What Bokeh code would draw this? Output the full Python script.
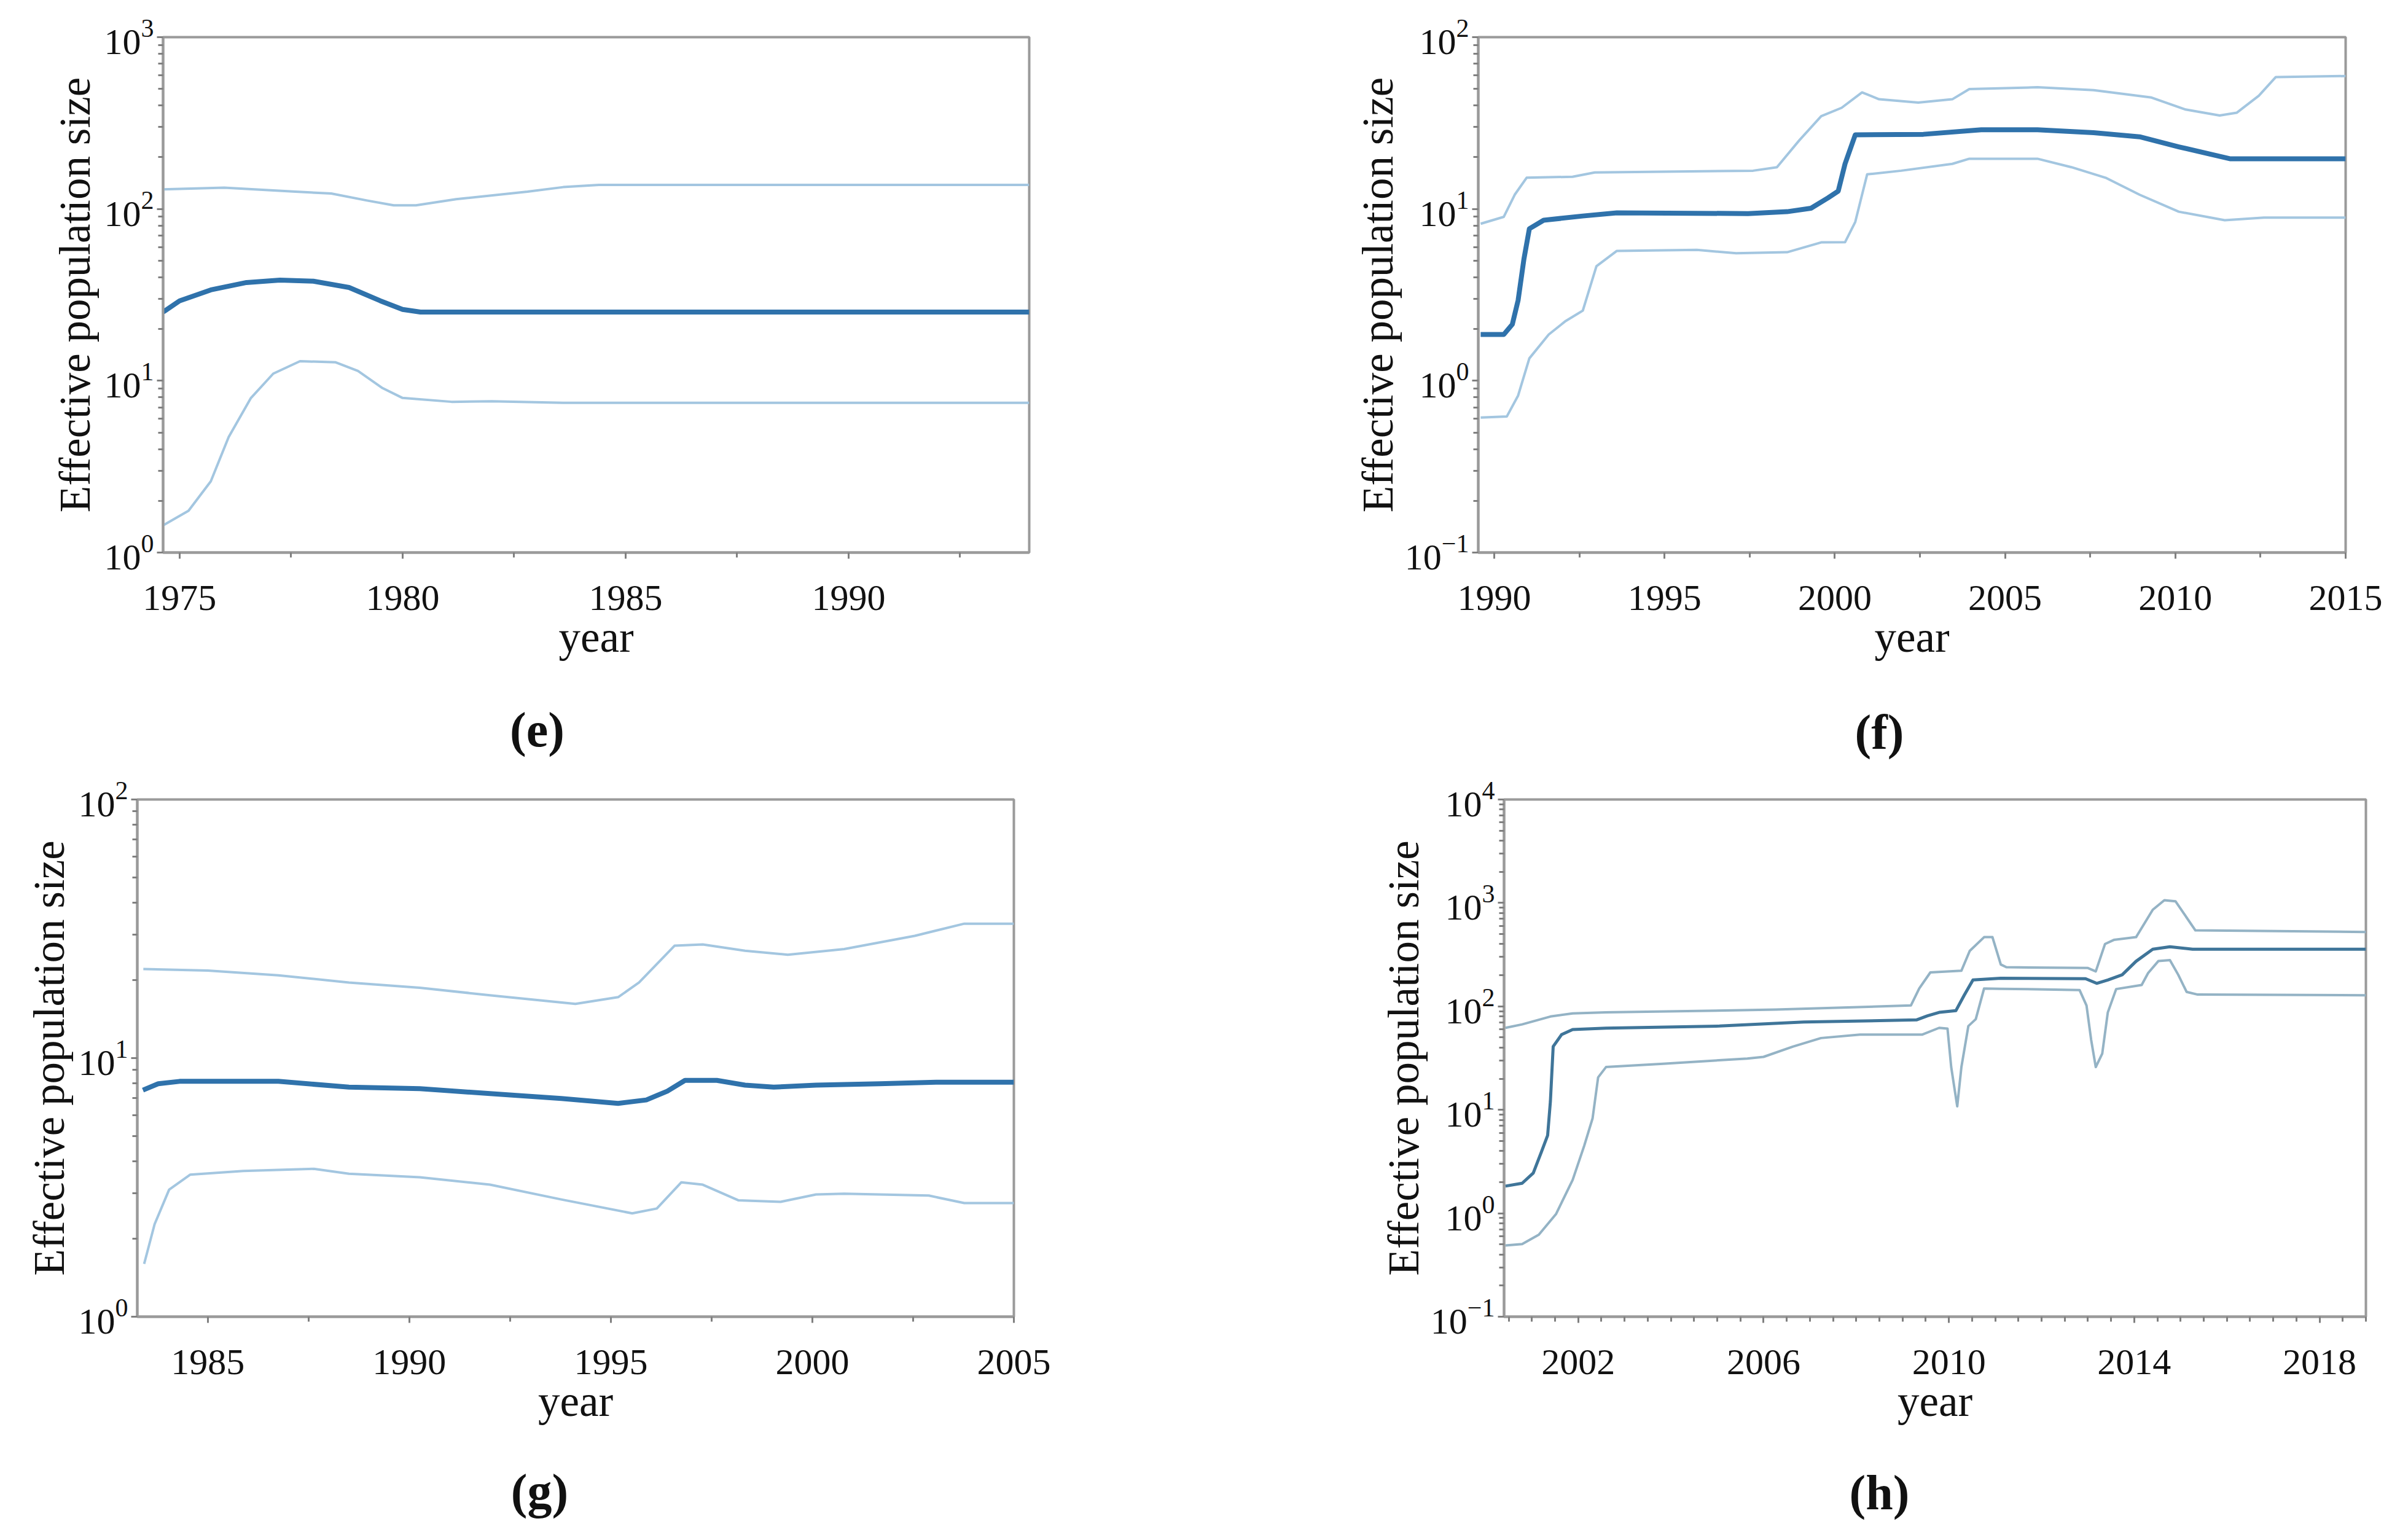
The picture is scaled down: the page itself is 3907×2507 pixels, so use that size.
from bokeh.plotting import figure
from bokeh.layouts import column, row
from bokeh.models import FixedTicker, Label, Range1d
from bokeh.embed import file_html
from bokeh.resources import INLINE

# ---------------- data ----------------
# panel (e)
e_upper_year = [1974.63, 1976.0, 1977.6, 1978.4, 1979.2, 1979.8, 1980.3, 1981.2, 1982.8, 1983.6, 1984.4, 1994.05]
e_upper = [130, 133, 126, 123, 112, 105, 105, 114, 126, 134, 138, 138]
e_mean_year = [1974.63, 1975.0, 1975.7, 1976.5, 1977.25, 1978.0, 1978.8, 1979.5, 1980.0, 1980.4, 1994.05]
e_mean = [25.1, 29.2, 33.8, 37.3, 38.5, 38.0, 34.9, 29.2, 26.0, 25.1, 25.1]
e_lower_year = [1974.63, 1975.2, 1975.7, 1976.1, 1976.6, 1977.1, 1977.7, 1978.5, 1979.0, 1979.55, 1980.0, 1981.1, 1982.0, 1983.6, 1994.05]
e_lower = [1.44, 1.75, 2.6, 4.7, 7.94, 11.0, 13.0, 12.8, 11.4, 9.06, 7.94, 7.54, 7.6, 7.44, 7.44]

# panel (f)
f_upper_year = [1989.6, 1990.28, 1990.6, 1990.95, 1992.3, 1992.95, 1997.6, 1998.3, 1998.95, 1999.6, 2000.2, 2000.8, 2001.3, 2002.45, 2003.45, 2003.95, 2005.95, 2007.6, 2009.3, 2010.3, 2011.3, 2011.8, 2012.45, 2012.95, 2015.0]
f_upper = [8.2, 9.0, 12.1, 15.2, 15.4, 16.3, 16.7, 17.5, 25.0, 34.7, 38.8, 47.7, 43.5, 41.6, 43.5, 49.9, 51.1, 49.2, 44.5, 37.9, 35.0, 36.3, 45.6, 58.6, 59.4]
f_mean_year = [1989.6, 1990.28, 1990.53, 1990.7, 1990.87, 1991.03, 1991.45, 1992.6, 1993.6, 1997.45, 1998.6, 1999.3, 1999.8, 2000.1, 2000.3, 2000.6, 2002.6, 2004.3, 2005.95, 2007.6, 2008.95, 2010.1, 2011.6, 2012.6, 2015.0]
f_mean = [1.86, 1.86, 2.13, 2.94, 5.1, 7.67, 8.6, 9.1, 9.5, 9.4, 9.64, 10.1, 11.6, 12.7, 18.3, 27.0, 27.2, 28.9, 28.9, 27.8, 26.3, 23.0, 19.6, 19.6, 19.6]
f_lower_year = [1989.6, 1990.37, 1990.7, 1991.03, 1991.6, 1992.1, 1992.6, 1993.0, 1993.6, 1995.95, 1997.1, 1998.6, 1999.6, 2000.3, 2000.6, 2000.95, 2001.95, 2003.45, 2003.95, 2005.95, 2006.95, 2007.95, 2008.95, 2010.1, 2011.45, 2012.6, 2015.0]
f_lower = [0.61, 0.62, 0.82, 1.35, 1.86, 2.23, 2.56, 4.64, 5.7, 5.78, 5.52, 5.6, 6.39, 6.4, 8.4, 15.9, 16.7, 18.3, 19.6, 19.6, 17.5, 15.2, 12.1, 9.64, 8.6, 8.9, 8.9]

# panel (g)
g_upper_year = [1983.4, 1985.0, 1986.75, 1988.5, 1990.26, 1992.0, 1994.12, 1995.18, 1995.7, 1996.58, 1997.28, 1998.33, 1999.39, 2000.79, 2002.54, 2003.77, 2005.0]
g_upper = [22.1, 21.8, 20.9, 19.6, 18.7, 17.5, 16.2, 17.2, 19.6, 27.2, 27.5, 26.0, 25.1, 26.4, 29.7, 33.1, 33.1]
g_mean_year = [1983.39, 1983.77, 1984.3, 1986.75, 1988.5, 1990.26, 1992.0, 1993.77, 1995.18, 1995.88, 1996.4, 1996.84, 1997.63, 1998.33, 1999.04, 2000.09, 2001.67, 2003.07, 2005.0]
g_mean = [7.52, 7.96, 8.13, 8.13, 7.72, 7.62, 7.29, 6.98, 6.68, 6.89, 7.45, 8.2, 8.2, 7.86, 7.72, 7.86, 7.96, 8.07, 8.07]
g_lower_year = [1983.42, 1983.68, 1984.04, 1984.56, 1985.88, 1987.63, 1988.5, 1990.26, 1992.0, 1993.77, 1995.53, 1996.14, 1996.75, 1997.28, 1998.16, 1999.21, 2000.09, 2000.79, 2002.89, 2003.77, 2005.0]
g_lower = [1.6, 2.28, 3.1, 3.54, 3.66, 3.73, 3.57, 3.46, 3.24, 2.84, 2.51, 2.62, 3.31, 3.24, 2.82, 2.78, 2.97, 2.99, 2.94, 2.75, 2.75]

# panel (h)
h_upper_year = [2000.43, 2000.79, 2001.4, 2001.88, 2002.6, 2006.26, 2009.18, 2009.36, 2009.6, 2010.27, 2010.45, 2010.76, 2010.94, 2011.12, 2011.24, 2013.0, 2013.17, 2013.37, 2013.56, 2014.04, 2014.4, 2014.65, 2014.89, 2015.32, 2019.0]
h_upper = [62, 67, 79.8, 85.5, 87.5, 93, 102, 149, 213, 221, 344, 467, 467, 254, 239, 235, 218, 401, 439, 467, 859, 1062, 1038, 543, 524]
h_mean_year = [2000.43, 2000.79, 2001.03, 2001.2, 2001.34, 2001.4, 2001.46, 2001.64, 2001.88, 2002.6, 2005.05, 2006.87, 2009.3, 2009.54, 2009.79, 2010.15, 2010.33, 2010.52, 2011.12, 2012.95, 2013.19, 2013.43, 2013.74, 2014.04, 2014.4, 2014.77, 2015.26, 2019.0]
h_mean = [1.83, 1.95, 2.45, 3.86, 5.65, 12.1, 40.9, 53.3, 59.8, 61.6, 64.5, 70.6, 74, 81, 87.5, 90.8, 128, 180, 187, 185, 167, 180, 202, 273, 357, 377, 357, 357]
h_lower_year = [2000.43, 2000.79, 2001.15, 2001.52, 2001.88, 2002.13, 2002.31, 2002.43, 2002.6, 2003.83, 2005.65, 2006.0, 2006.63, 2007.24, 2008.08, 2009.42, 2009.79, 2009.97, 2010.05, 2010.18, 2010.27, 2010.42, 2010.58, 2010.76, 2011.12, 2012.82, 2012.97, 2013.07, 2013.17, 2013.31, 2013.43, 2013.61, 2014.16, 2014.3, 2014.52, 2014.77, 2014.95, 2015.13, 2015.37, 2019.0]
h_lower = [0.488, 0.503, 0.62, 0.98, 2.1, 4.5, 8.26, 20.6, 25.9, 27.9, 31.3, 32.5, 40.8, 49.4, 53.3, 53.3, 62, 61, 25.9, 10.8, 25.9, 64.5, 75.2, 149, 148, 144, 102, 47.6, 25.9, 35, 87.5, 147, 161, 210, 274, 280, 202, 138, 130, 128]

# axis ticks
e_xticks = [1975, 1980, 1985, 1990]
e_xminor = [1977.5, 1982.5, 1987.5, 1992.5]
f_xticks = [1990, 1995, 2000, 2005, 2010, 2015]
f_xminor = [1992.5, 1997.5, 2002.5, 2007.5, 2012.5]
g_xticks = [1985, 1990, 1995, 2000, 2005]
g_xminor = [1987.5, 1992.5, 1997.5, 2002.5]
h_xticks = [2002, 2006, 2010, 2014, 2018]
h_xminor = [2000.5 + 0.5 * i for i in range(38)]

AXIS_COLOR = "#9a9a9a"
SERIF = "Liberation Serif"


def log_minor(lo_exp, hi_exp):
    out = []
    for e in range(lo_exp, hi_exp):
        for k in range(2, 10):
            out.append(k * 10.0 ** e)
    return out


def panel(xr, yexp, xt, xm, series, letter, lab_xy, w, h, borders, mean_style, bound_style, ylab_standoff):
    bl, br, bt, bb = borders
    p = figure(width=w, height=h, x_axis_type="linear", y_axis_type="log",
               x_range=Range1d(*xr), y_range=Range1d(10.0 ** yexp[0], 10.0 ** yexp[1]),
               output_backend="svg", toolbar_location=None,
               min_border_left=bl, min_border_right=br, min_border_top=bt, min_border_bottom=bb)
    p.background_fill_color = "white"
    p.border_fill_color = "white"
    p.grid.visible = False
    p.outline_line_color = AXIS_COLOR
    p.outline_line_width = 4

    (yu, u), (ym, m), (yl, l) = series
    p.line(yu, u, line_color=bound_style[0], line_width=bound_style[1], line_join="round")
    p.line(yl, l, line_color=bound_style[0], line_width=bound_style[1], line_join="round")
    p.line(ym, m, line_color=mean_style[0], line_width=mean_style[1], line_join="round")

    p.xaxis.ticker = FixedTicker(ticks=xt, minor_ticks=xm)
    p.yaxis.ticker = FixedTicker(ticks=[10.0 ** e for e in range(yexp[0], yexp[1] + 1)],
                                 minor_ticks=log_minor(yexp[0], yexp[1]))
    for ax in (p.xaxis[0], p.yaxis[0]):
        ax.axis_line_color = AXIS_COLOR
        ax.axis_line_width = 4
        ax.major_tick_line_color = "#808080"
        ax.minor_tick_line_color = "#808080"
        ax.major_tick_line_width = 3
        ax.minor_tick_line_width = 3
        ax.major_tick_in = 0
        ax.minor_tick_in = 0
        ax.major_tick_out = 10
        ax.minor_tick_out = 8
        ax.major_label_text_font = SERIF
        ax.major_label_text_font_size = "60px"
        ax.major_label_text_color = "#111111"
        ax.axis_label_text_font = SERIF
        ax.axis_label_text_font_size = "71px"
        ax.axis_label_text_font_style = "normal"
        ax.axis_label_text_color = "#111111"
    p.xaxis.axis_label = "year"
    p.yaxis.axis_label = "Effective population size"
    p.xaxis.major_label_standoff = 44
    p.xaxis.axis_label_standoff = 2
    p.yaxis.major_label_standoff = 5
    p.yaxis.axis_label_standoff = ylab_standoff

    # panel letter, in a side panel below the x axis (side panels are not clipped to the frame)
    lx, ly = lab_xy
    p.add_layout(Label(x=lx, y=ly, x_units="screen", y_units="screen", text="(" + letter + ")",
                       text_font=SERIF, text_font_size="80px", text_font_style="bold",
                       text_align="center", text_baseline="middle", text_color="#111111"), "below")
    return p


MEAN1 = ("#2f72ab", 8)
BOUND1 = ("#a3c6e0", 4)
MEAN2 = ("#3f7599", 5)
BOUND2 = ("#94b3c5", 4)

pe = panel((1974.63, 1994.05), (0, 3), e_xticks, e_xminor,
           [(e_upper_year, e_upper), (e_mean_year, e_mean), (e_lower_year, e_lower)],
           "e", (609, -21), 2000, 1250, (265, 325, 60, 351), MEAN1, BOUND1, 6)
pf = panel((1989.53, 2015.0), (-1, 2), f_xticks, f_xminor,
           [(f_upper_year, f_upper), (f_mean_year, f_mean), (f_lower_year, f_lower)],
           "f", (653, -25), 1891, 1250, (406, 73, 57, 349), MEAN1, BOUND1, 2)
pg = panel((1983.25, 2005.0), (0, 2), g_xticks, g_xminor,
           [(g_upper_year, g_upper), (g_mean_year, g_mean), (g_lower_year, g_lower)],
           "g", (655, -17), 2000, 1240, (223, 350, 47, 347), MEAN1, BOUND1, 6)
ph = panel((2000.4, 2019.0), (-1, 4), h_xticks, h_xminor,
           [(h_upper_year, h_upper), (h_mean_year, h_mean), (h_lower_year, h_lower)],
           "h", (611, -19), 1891, 1240, (448, 40, 51, 345), MEAN2, BOUND2, 2)

layout = column(row(pe, pf), row(pg, ph))
open("out.html", "w").write(file_html(layout, INLINE))
